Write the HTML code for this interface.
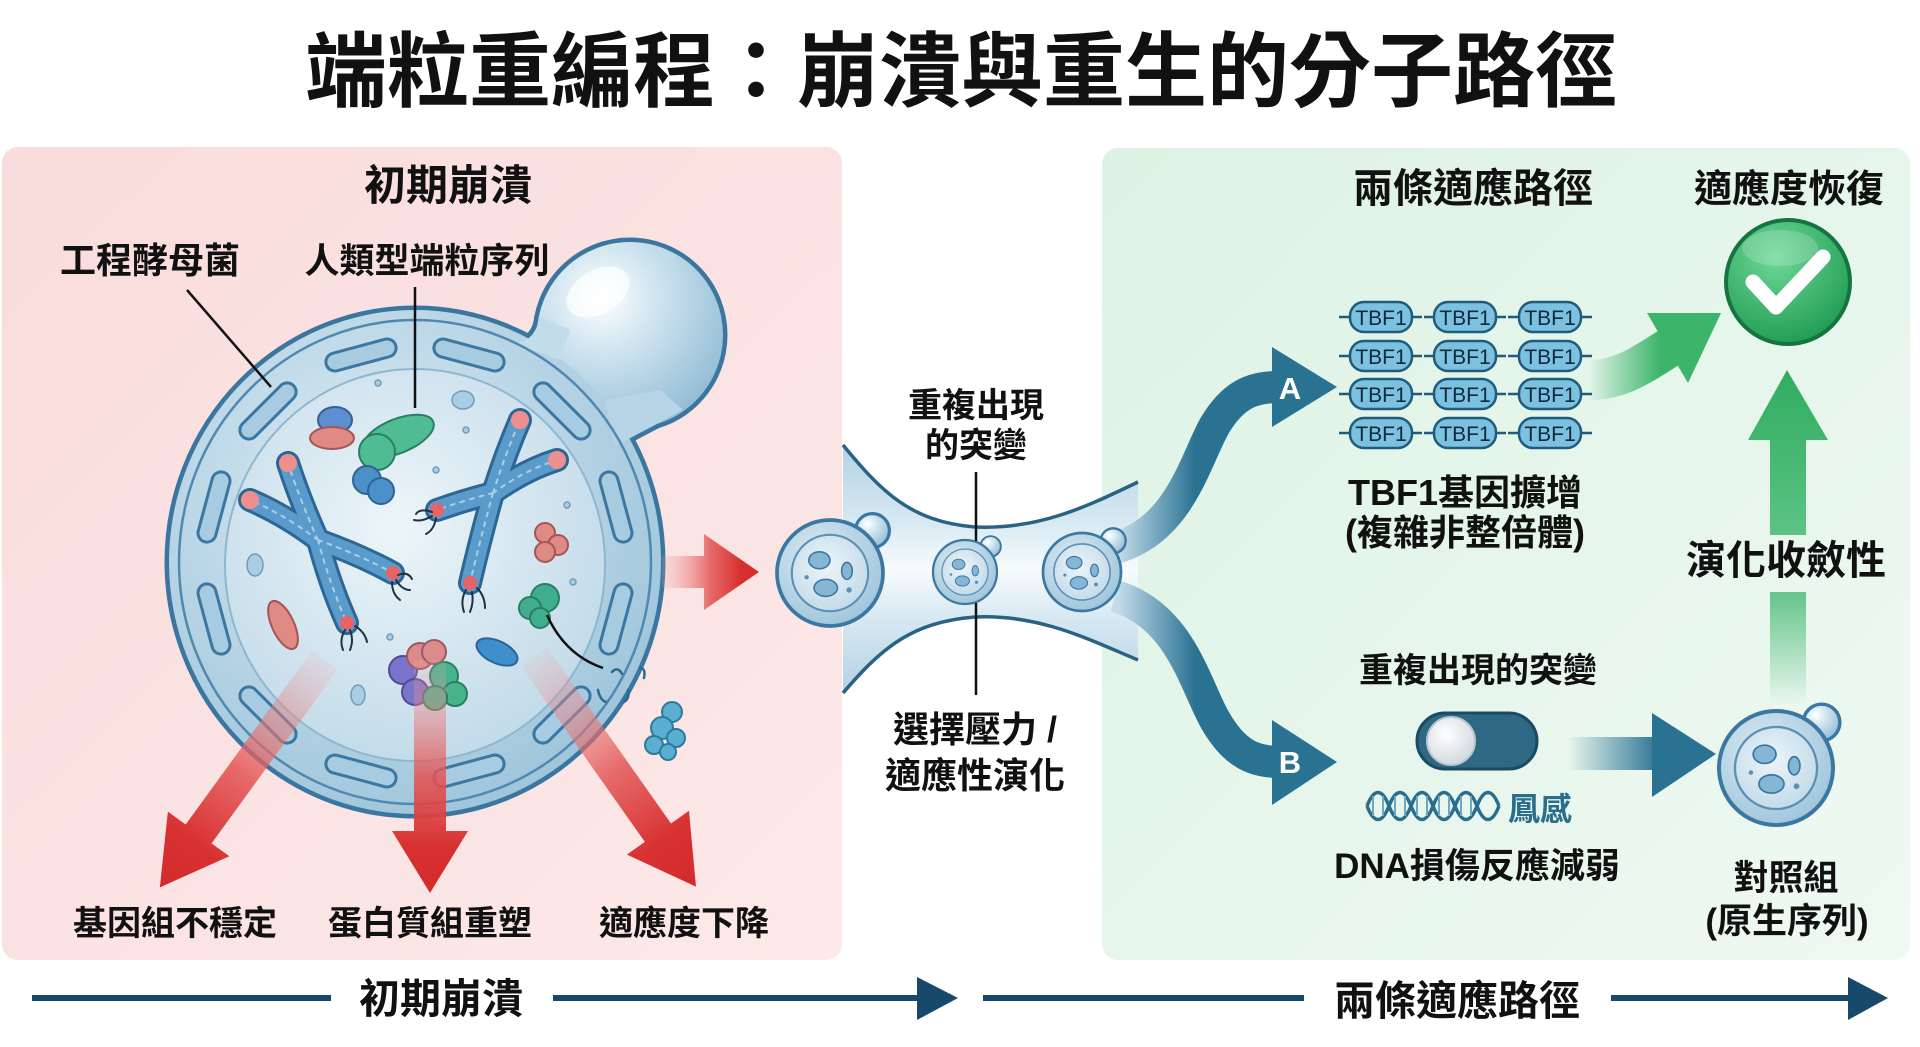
<!DOCTYPE html>
<html><head><meta charset="utf-8">
<style>
html,body{margin:0;padding:0;background:#fff;}
svg{display:block;}
text{font-family:"Liberation Sans","Noto Sans CJK TC","Noto Sans CJK JP",sans-serif;font-weight:700;fill:#111;}
</style></head><body>
<svg width="1920" height="1047" viewBox="0 0 1920 1047" xmlns="http://www.w3.org/2000/svg">
<defs>
 <linearGradient id="pinkBg" x1="0" y1="0" x2="1" y2="1">
  <stop offset="0" stop-color="#f9dcdc"/><stop offset="1" stop-color="#fce9e8"/>
 </linearGradient>
 <linearGradient id="greenBg" x1="0" y1="0" x2="1" y2="1">
  <stop offset="0" stop-color="#ddf2e4"/><stop offset="1" stop-color="#eef9f2"/>
 </linearGradient>
 <radialGradient id="cellFill" cx="0.4" cy="0.35" r="0.7">
  <stop offset="0" stop-color="#dcebf4"/><stop offset="1" stop-color="#9dc4da"/>
 </radialGradient>
 <radialGradient id="nucFill" cx="0.45" cy="0.4" r="0.65">
  <stop offset="0" stop-color="#edf5f9"/><stop offset="1" stop-color="#c0d9e8"/>
 </radialGradient>
 <radialGradient id="budFill" cx="0.35" cy="0.3" r="0.75">
  <stop offset="0" stop-color="#ffffff"/><stop offset="0.35" stop-color="#d4e7f1"/><stop offset="1" stop-color="#93bdd5"/>
 </radialGradient>
 <linearGradient id="redGrad" x1="0" y1="0" x2="1" y2="0">
  <stop offset="0" stop-color="#f2a9a9" stop-opacity="0.15"/>
  <stop offset="0.5" stop-color="#e35454" stop-opacity="0.85"/>
  <stop offset="0.8" stop-color="#d83131"/>
  <stop offset="1" stop-color="#d32b2b"/>
 </linearGradient>
 <linearGradient id="tubeGrad" gradientUnits="userSpaceOnUse" x1="0" y1="445" x2="0" y2="695">
  <stop offset="0" stop-color="#b3d1e2"/><stop offset="0.3" stop-color="#d6e8f2"/>
  <stop offset="0.5" stop-color="#f7fbfd"/><stop offset="0.7" stop-color="#d6e8f2"/>
  <stop offset="1" stop-color="#b3d1e2"/>
 </linearGradient>
 <linearGradient id="ribGrad" gradientUnits="userSpaceOnUse" x1="1118" y1="0" x2="1195" y2="0">
  <stop offset="0" stop-color="#c4dcea"/><stop offset="1" stop-color="#2a7292"/>
 </linearGradient>
 <linearGradient id="greenArr" gradientUnits="userSpaceOnUse" x1="1588" y1="0" x2="1660" y2="0">
  <stop offset="0" stop-color="#3cb46a" stop-opacity="0"/><stop offset="1" stop-color="#3cb46a"/>
 </linearGradient>
 <linearGradient id="greenUp" gradientUnits="userSpaceOnUse" x1="0" y1="370" x2="0" y2="540">
  <stop offset="0" stop-color="#2fac5f"/><stop offset="1" stop-color="#5ec486"/>
 </linearGradient>
 <linearGradient id="greenFade" gradientUnits="userSpaceOnUse" x1="0" y1="592" x2="0" y2="705">
  <stop offset="0" stop-color="#63c488"/><stop offset="1" stop-color="#63c488" stop-opacity="0"/>
 </linearGradient>
 <linearGradient id="blueArr" gradientUnits="userSpaceOnUse" x1="1568" y1="0" x2="1660" y2="0">
  <stop offset="0" stop-color="#2a7292" stop-opacity="0"/><stop offset="1" stop-color="#2a7292"/>
 </linearGradient>
 <radialGradient id="checkGrad" cx="0.4" cy="0.3" r="0.75">
  <stop offset="0" stop-color="#6fd898"/><stop offset="1" stop-color="#1e9a52"/>
 </radialGradient>
 <radialGradient id="knob" cx="0.4" cy="0.35" r="0.7">
  <stop offset="0" stop-color="#ffffff"/><stop offset="1" stop-color="#cfd8de"/>
 </radialGradient>
 <g id="yeast">
  <circle cx="40" cy="-40" r="16" fill="url(#budFill)" stroke="#3b77a0" stroke-width="3"/>
  <circle cx="0" cy="0" r="50" fill="url(#cellFill)" stroke="#3b77a0" stroke-width="3.5"/>
  <circle cx="0" cy="0" r="36" fill="url(#nucFill)" stroke="#5d8fb3" stroke-width="2"/>
  <ellipse cx="-10" cy="-12" rx="10" ry="8" fill="#86b6d6" stroke="#3b77a0" stroke-width="1.5"/>
  <ellipse cx="-4" cy="14" rx="11" ry="8" fill="#86b6d6" stroke="#3b77a0" stroke-width="1.5"/>
  <ellipse cx="16" cy="-2" rx="5" ry="8" fill="#86b6d6" stroke="#3b77a0" stroke-width="1.5"/>
  <circle cx="-22" cy="4" r="2" fill="#5d8fb3"/><circle cx="18" cy="16" r="2.5" fill="#5d8fb3"/>
 </g>
</defs>

<!-- background panels -->
<rect x="0" y="0" width="1920" height="1047" fill="#ffffff"/>
<rect x="2" y="147" width="840" height="813" rx="16" fill="url(#pinkBg)"/>
<rect x="1102" y="148" width="808" height="812" rx="16" fill="url(#greenBg)"/>

<!-- title -->
<text x="961" y="100" font-size="82" font-weight="900" text-anchor="middle">端粒重編程：崩潰與重生的分子路徑</text>

<!-- left panel texts -->
<text x="448" y="200" font-size="42" text-anchor="middle">初期崩潰</text>
<text x="150" y="273" font-size="36" text-anchor="middle">工程酵母菌</text>
<text x="427" y="273" font-size="35" text-anchor="middle">人類型端粒序列</text>

<!-- big cell -->
<g>
 <circle cx="630" cy="335" r="93" fill="none" stroke="#3a76a0" stroke-width="9"/>
 <ellipse cx="415" cy="562" rx="246" ry="252" fill="none" stroke="#3a76a0" stroke-width="9"/>
 <path d="M683 410 Q 642 432 615 446" fill="none" stroke="#3a76a0" stroke-width="9"/>
 <path d="M515 344 Q 537 340 539 316" fill="none" stroke="#3a76a0" stroke-width="9"/>
 <circle cx="630" cy="335" r="93" fill="url(#budFill)"/>
 <ellipse cx="415" cy="562" rx="246" ry="252" fill="url(#cellFill)"/>
 <path d="M683 410 Q 642 432 615 446 L 605 400 L 660 390 Z" fill="#b7d5e6"/>
 <path d="M515 344 Q 537 340 539 316 L 570 330 L 560 360 Z" fill="#c3dcea"/>
 <ellipse cx="598" cy="292" rx="34" ry="22" fill="#ffffff" opacity="0.7" transform="rotate(-30 598 292)"/>
 <ellipse cx="415" cy="562" rx="236" ry="242" fill="none" stroke="#4f88b0" stroke-width="2.5"/>
 <ellipse cx="415" cy="565" rx="190" ry="196" fill="url(#nucFill)" stroke="#8db7d0" stroke-width="2"/>
 <!-- capsules -->
 <g fill="#a7cbe0" stroke="#3b77a0" stroke-width="3">
  <rect x="-36" y="-9" width="72" height="18" rx="9" transform="translate(616,619) rotate(105)"/>
  <rect x="-36" y="-9" width="72" height="18" rx="9" transform="translate(562,715) rotate(135)"/>
  <rect x="-36" y="-9" width="72" height="18" rx="9" transform="translate(469,771) rotate(165)"/>
  <rect x="-36" y="-9" width="72" height="18" rx="9" transform="translate(361,771) rotate(195)"/>
  <rect x="-36" y="-9" width="72" height="18" rx="9" transform="translate(268,715) rotate(225)"/>
  <rect x="-36" y="-9" width="72" height="18" rx="9" transform="translate(214,619) rotate(255)"/>
  <rect x="-36" y="-9" width="72" height="18" rx="9" transform="translate(214,507) rotate(285)"/>
  <rect x="-36" y="-9" width="72" height="18" rx="9" transform="translate(268,411) rotate(315)"/>
  <rect x="-36" y="-9" width="72" height="18" rx="9" transform="translate(361,355) rotate(345)"/>
  <rect x="-36" y="-9" width="72" height="18" rx="9" transform="translate(469,355) rotate(15)"/>
  <rect x="-36" y="-9" width="72" height="18" rx="9" transform="translate(562,411) rotate(45)"/>
  <rect x="-36" y="-9" width="72" height="18" rx="9" transform="translate(616,507) rotate(75)"/>
 </g>
 <!-- chromosomes -->
 <g fill="none" stroke-linecap="round">
  <g stroke="#2c6694" stroke-width="24">
   <path d="M318 540 Q 300 500 288 463"/><path d="M318 540 Q 285 515 250 500"/>
   <path d="M318 540 Q 360 555 393 573"/><path d="M318 540 Q 330 585 347 623"/>
   <path d="M493 493 Q 505 455 520 420"/><path d="M493 493 Q 525 470 557 460"/>
   <path d="M493 493 Q 465 500 437 510"/><path d="M493 493 Q 480 540 470 583"/>
  </g>
  <g stroke="#5b9bcc" stroke-width="18">
   <path d="M318 540 Q 300 500 288 463"/><path d="M318 540 Q 285 515 250 500"/>
   <path d="M318 540 Q 360 555 393 573"/><path d="M318 540 Q 330 585 347 623"/>
   <path d="M493 493 Q 505 455 520 420"/><path d="M493 493 Q 525 470 557 460"/>
   <path d="M493 493 Q 465 500 437 510"/><path d="M493 493 Q 480 540 470 583"/>
  </g>
  <g stroke="#a6cfe9" stroke-width="2" stroke-dasharray="4 6">
   <path d="M318 540 Q 300 500 288 463"/><path d="M318 540 Q 285 515 250 500"/>
   <path d="M318 540 Q 360 555 393 573"/><path d="M318 540 Q 330 585 347 623"/>
   <path d="M493 493 Q 505 455 520 420"/><path d="M493 493 Q 525 470 557 460"/>
   <path d="M493 493 Q 465 500 437 510"/><path d="M493 493 Q 480 540 470 583"/>
  </g>
 </g>
 <g fill="#ee8f8f">
  <circle cx="288" cy="463" r="9"/><circle cx="250" cy="500" r="9"/>
  <circle cx="520" cy="420" r="9"/><circle cx="557" cy="460" r="9"/>
  <circle cx="393" cy="573" r="7" fill="#e86464"/><circle cx="347" cy="623" r="7" fill="#e86464"/>
  <circle cx="437" cy="510" r="7" fill="#e86464"/><circle cx="470" cy="583" r="7" fill="#e86464"/>
 </g>
 <g fill="none" stroke="#1d3342" stroke-width="2" stroke-linecap="round">
  <path d="M398 575 q 10 -4 14 4"/><path d="M396 580 q 6 10 14 10"/><path d="M392 582 q 0 12 8 18"/>
  <path d="M345 630 q -6 10 -2 20"/><path d="M350 630 q 4 10 0 20"/><path d="M355 626 q 10 6 12 16"/>
  <path d="M432 512 q -12 -4 -16 2"/><path d="M432 516 q -10 6 -18 4"/><path d="M436 518 q -2 12 -10 16"/>
  <path d="M466 590 q -6 10 -2 22"/><path d="M472 592 q 2 10 -2 20"/><path d="M477 588 q 8 8 8 20"/>
 </g>
 <!-- blobs -->
 <ellipse cx="335" cy="420" rx="17" ry="13" fill="#5b8fd0" stroke="#355f96" stroke-width="2"/>
 <ellipse cx="332" cy="438" rx="22" ry="11" fill="#e08a86" stroke="#a55556" stroke-width="2"/>
 <ellipse cx="398" cy="436" rx="38" ry="17" fill="#4fbc93" stroke="#2a7e63" stroke-width="2" transform="rotate(-22 398 436)"/>
 <circle cx="377" cy="452" r="18" fill="#4fbc93" stroke="#2a7e63" stroke-width="2"/>
 <circle cx="367" cy="480" r="14" fill="#4c90c9" stroke="#2d6396" stroke-width="2"/>
 <circle cx="381" cy="491" r="13" fill="#4c90c9" stroke="#2d6396" stroke-width="2"/>
 <ellipse cx="463" cy="400" rx="11" ry="9" fill="#a9cde3" stroke="#6e9dbc" stroke-width="1.5"/>
 <g fill="#e08a86" stroke="#a55556" stroke-width="2">
  <circle cx="545" cy="533" r="10"/><circle cx="558" cy="545" r="10"/><circle cx="545" cy="552" r="10"/>
 </g>
 <g fill="#3fae8d" stroke="#2a7e63" stroke-width="2">
  <circle cx="545" cy="598" r="14"/><circle cx="530" cy="608" r="11"/><circle cx="540" cy="618" r="10"/>
 </g>
 <ellipse cx="497" cy="652" rx="22" ry="11" fill="#3f8fcd" stroke="#2c6396" stroke-width="2" transform="rotate(25 497 652)"/>
 <ellipse cx="283" cy="625" rx="11" ry="26" fill="#e08a86" stroke="#a55556" stroke-width="2" transform="rotate(-25 283 625)"/>
 <g stroke-width="2">
  <circle cx="403" cy="670" r="14" fill="#7a74cc" stroke="#4f4a95"/>
  <circle cx="415" cy="692" r="13" fill="#7a74cc" stroke="#4f4a95"/>
  <circle cx="420" cy="656" r="13" fill="#dc8a8c" stroke="#9b5a63"/>
  <circle cx="434" cy="652" r="12" fill="#dc8a8c" stroke="#9b5a63"/>
  <circle cx="444" cy="676" r="14" fill="#47b48d" stroke="#2a7e63"/>
  <circle cx="455" cy="694" r="12" fill="#47b48d" stroke="#2a7e63"/>
  <circle cx="435" cy="698" r="12" fill="#47b48d" stroke="#2a7e63"/>
 </g>
 <g fill="#a9cde3" stroke="#6e9dbc" stroke-width="1.5">
  <circle cx="378" cy="383" r="3"/><circle cx="466" cy="430" r="3"/><circle cx="436" cy="470" r="3"/>
  <circle cx="567" cy="505" r="3"/><circle cx="573" cy="582" r="3"/><circle cx="390" cy="637" r="3"/>
  <ellipse cx="255" cy="565" rx="8" ry="11"/><ellipse cx="358" cy="695" rx="7" ry="10"/>
 </g>
 <!-- debris -->
 <path d="M547 615 Q 565 655 603 668" fill="none" stroke="#111" stroke-width="2.5"/>
 <g fill="none" stroke="#2b6b90" stroke-width="2.5" stroke-linecap="round">
  <path d="M612 672 q 6 -6 10 2"/><path d="M640 668 q 6 0 4 10"/><path d="M598 690 q 2 10 8 12"/><path d="M628 690 q 2 8 -4 12"/>
 </g>
 <g fill="#5aaed0" stroke="#2d7aa0" stroke-width="2">
  <circle cx="672" cy="712" r="10"/><circle cx="662" cy="728" r="11"/><circle cx="676" cy="738" r="9"/><circle cx="654" cy="745" r="9"/><circle cx="668" cy="752" r="8"/>
 </g>
</g>

<!-- leader lines -->
<line x1="187" y1="290" x2="271" y2="387" stroke="#111" stroke-width="2.5"/>
<line x1="415" y1="287" x2="415" y2="408" stroke="#111" stroke-width="2.5"/>

<!-- red arrows -->
<g transform="translate(325,660) rotate(126)"><polygon points="0,-16 215,-16 215,-38 281,0 215,38 215,16 0,16" fill="url(#redGrad)"/></g>
<g transform="translate(430,660) rotate(90)"><polygon points="0,-16 171,-16 171,-38 233,0 171,38 171,16 0,16" fill="url(#redGrad)"/></g>
<g transform="translate(534,657) rotate(54.8)"><polygon points="0,-16 215,-16 215,-38 281,0 215,38 215,16 0,16" fill="url(#redGrad)"/></g>
<g transform="translate(662,572)"><polygon points="0,-16 42,-16 42,-38 97,0 42,38 42,16 0,16" fill="url(#redGrad)"/></g>

<text x="175" y="935" font-size="34" text-anchor="middle">基因組不穩定</text>
<text x="430" y="935" font-size="34" text-anchor="middle">蛋白質組重塑</text>
<text x="684" y="935" font-size="34" text-anchor="middle">適應度下降</text>

<!-- tube -->
<path d="M843 445 C 880 490, 910 522, 975 527 C 1040 530, 1090 505, 1138 482 L 1138 660 C 1090 640, 1040 614, 975 617 C 910 622, 880 650, 843 693 Z" fill="url(#tubeGrad)"/>
<path d="M843 445 C 880 490, 910 522, 975 527 C 1040 530, 1090 505, 1138 482" fill="none" stroke="#2a6283" stroke-width="3.5"/>
<path d="M843 693 C 880 650, 910 622, 975 617 C 1040 614, 1090 640, 1138 660" fill="none" stroke="#2a6283" stroke-width="3.5"/>

<!-- ribbons A/B -->
<path d="M1115 548 C 1180 530, 1195 460, 1215 425 C 1235 392, 1255 387, 1280 387" fill="none" stroke="url(#ribGrad)" stroke-width="32"/>
<polygon points="1272,347 1337,387 1272,427" fill="#2a7292"/>
<path d="M1115 596 C 1180 615, 1195 685, 1215 720 C 1235 755, 1255 762, 1280 762" fill="none" stroke="url(#ribGrad)" stroke-width="32"/>
<polygon points="1272,720 1337,762 1272,805" fill="#2a7292"/>
<text x="1290" y="399" font-size="31" text-anchor="middle" style="fill:#fff">A</text>
<text x="1290" y="773" font-size="31" text-anchor="middle" style="fill:#fff">B</text>

<!-- tube cells -->
<use href="#yeast" transform="translate(830,573) scale(1.06)"/>
<use href="#yeast" transform="translate(965,572) scale(0.64)"/>
<use href="#yeast" transform="translate(1082,572) scale(0.78)"/>

<line x1="976" y1="472" x2="976" y2="541" stroke="#111" stroke-width="2.5"/>
<line x1="976" y1="603" x2="976" y2="695" stroke="#111" stroke-width="2.5"/>
<text x="976" y="417" font-size="34" text-anchor="middle">重複出現</text>
<text x="976" y="457" font-size="34" text-anchor="middle">的突變</text>
<text x="975" y="742" font-size="36" text-anchor="middle">選擇壓力 /</text>
<text x="975" y="788" font-size="36" text-anchor="middle">適應性演化</text>

<!-- right panel -->
<text x="1473" y="202" font-size="40" text-anchor="middle">兩條適應路徑</text>
<text x="1789" y="202" font-size="38" text-anchor="middle">適應度恢復</text>

<circle cx="1788" cy="282" r="62" fill="url(#checkGrad)" stroke="#16743f" stroke-width="4"/>
<ellipse cx="1780" cy="248" rx="38" ry="18" fill="#ffffff" opacity="0.18"/>
<polyline points="1753,282 1776,307 1823,257" fill="none" stroke="#ffffff" stroke-width="15" stroke-linecap="round" stroke-linejoin="round"/>

<!-- TBF1 pills: dashes -->
<g stroke="#1f5b7a" stroke-width="2.5">
 <line x1="1339" y1="317" x2="1351" y2="317"/><line x1="1411" y1="317" x2="1422" y2="317"/>
 <line x1="1424" y1="317" x2="1435" y2="317"/><line x1="1495" y1="317" x2="1506" y2="317"/>
 <line x1="1508" y1="317" x2="1520" y2="317"/><line x1="1580" y1="317" x2="1592" y2="317"/>
 <line x1="1339" y1="356" x2="1351" y2="356"/><line x1="1411" y1="356" x2="1422" y2="356"/>
 <line x1="1424" y1="356" x2="1435" y2="356"/><line x1="1495" y1="356" x2="1506" y2="356"/>
 <line x1="1508" y1="356" x2="1520" y2="356"/><line x1="1580" y1="356" x2="1592" y2="356"/>
 <line x1="1339" y1="394" x2="1351" y2="394"/><line x1="1411" y1="394" x2="1422" y2="394"/>
 <line x1="1424" y1="394" x2="1435" y2="394"/><line x1="1495" y1="394" x2="1506" y2="394"/>
 <line x1="1508" y1="394" x2="1520" y2="394"/><line x1="1580" y1="394" x2="1592" y2="394"/>
 <line x1="1339" y1="433" x2="1351" y2="433"/><line x1="1411" y1="433" x2="1422" y2="433"/>
 <line x1="1424" y1="433" x2="1435" y2="433"/><line x1="1495" y1="433" x2="1506" y2="433"/>
 <line x1="1508" y1="433" x2="1520" y2="433"/><line x1="1580" y1="433" x2="1592" y2="433"/>
</g>
<g fill="#7cc1e0" stroke="#1f5b7a" stroke-width="2.5">
 <rect x="1350" y="302" width="62" height="30" rx="14"/><rect x="1434" y="302" width="62" height="30" rx="14"/><rect x="1519" y="302" width="62" height="30" rx="14"/>
 <rect x="1350" y="341" width="62" height="30" rx="14"/><rect x="1434" y="341" width="62" height="30" rx="14"/><rect x="1519" y="341" width="62" height="30" rx="14"/>
 <rect x="1350" y="379" width="62" height="30" rx="14"/><rect x="1434" y="379" width="62" height="30" rx="14"/><rect x="1519" y="379" width="62" height="30" rx="14"/>
 <rect x="1350" y="418" width="62" height="30" rx="14"/><rect x="1434" y="418" width="62" height="30" rx="14"/><rect x="1519" y="418" width="62" height="30" rx="14"/>
</g>
<g font-size="21" text-anchor="middle">
 <text x="1381" y="325" style="fill:#0e2a3c;font-weight:400">TBF1</text><text x="1465" y="325" style="fill:#0e2a3c;font-weight:400">TBF1</text><text x="1550" y="325" style="fill:#0e2a3c;font-weight:400">TBF1</text>
 <text x="1381" y="364" style="fill:#0e2a3c;font-weight:400">TBF1</text><text x="1465" y="364" style="fill:#0e2a3c;font-weight:400">TBF1</text><text x="1550" y="364" style="fill:#0e2a3c;font-weight:400">TBF1</text>
 <text x="1381" y="402" style="fill:#0e2a3c;font-weight:400">TBF1</text><text x="1465" y="402" style="fill:#0e2a3c;font-weight:400">TBF1</text><text x="1550" y="402" style="fill:#0e2a3c;font-weight:400">TBF1</text>
 <text x="1381" y="441" style="fill:#0e2a3c;font-weight:400">TBF1</text><text x="1465" y="441" style="fill:#0e2a3c;font-weight:400">TBF1</text><text x="1550" y="441" style="fill:#0e2a3c;font-weight:400">TBF1</text>
</g>

<text x="1465" y="505" font-size="36" text-anchor="middle">TBF1基因擴增</text>
<text x="1465" y="545" font-size="36" text-anchor="middle">(複雜非整倍體)</text>

<!-- green arrows -->
<path d="M1590 380 C 1620 380, 1640 366, 1670 347" fill="none" stroke="url(#greenArr)" stroke-width="40"/>
<polygon points="1647,313 1721,313 1688,383" fill="#3cb46a"/>
<polygon points="1787,370 1828,440 1806,440 1806,535 1770,535 1770,440 1748,440" fill="url(#greenUp)"/>
<rect x="1770" y="592" width="36" height="112" fill="url(#greenFade)"/>
<text x="1786" y="574" font-size="40" text-anchor="middle">演化收斂性</text>

<!-- path B contents -->
<text x="1478" y="682" font-size="34" text-anchor="middle">重複出現的突變</text>
<rect x="1417" y="713" width="120" height="56" rx="28" fill="#2e6883" stroke="#1b4a63" stroke-width="3"/>
<circle cx="1451" cy="741" r="24" fill="url(#knob)" stroke="#b9c6cf" stroke-width="2"/>
<!-- DNA helix -->
<g fill="none" stroke="#2a6e8e" stroke-width="3.5">
 <path d="M1367 806 C 1374 788, 1382 788, 1389 806 C 1396 824, 1404 824, 1411 806 C 1418 788, 1426 788, 1433 806 C 1440 824, 1448 824, 1455 806 C 1462 788, 1470 788, 1477 806 C 1484 824, 1492 824, 1499 806"/>
 <path d="M1367 806 C 1374 824, 1382 824, 1389 806 C 1396 788, 1404 788, 1411 806 C 1418 824, 1426 824, 1433 806 C 1440 788, 1448 788, 1455 806 C 1462 824, 1470 824, 1477 806 C 1484 788, 1492 788, 1499 806"/>
</g>
<g stroke="#6fa7c4" stroke-width="2">
 <line x1="1373" y1="796" x2="1373" y2="816"/><line x1="1383" y1="796" x2="1383" y2="816"/>
 <line x1="1395" y1="796" x2="1395" y2="816"/><line x1="1405" y1="796" x2="1405" y2="816"/>
 <line x1="1417" y1="796" x2="1417" y2="816"/><line x1="1427" y1="796" x2="1427" y2="816"/>
 <line x1="1439" y1="796" x2="1439" y2="816"/><line x1="1449" y1="796" x2="1449" y2="816"/>
 <line x1="1461" y1="796" x2="1461" y2="816"/><line x1="1471" y1="796" x2="1471" y2="816"/>
</g>
<text x="1508" y="820" font-size="32" style="fill:#2a6e8e">鳳感</text>
<text x="1477" y="878" font-size="35" text-anchor="middle">DNA損傷反應減弱</text>

<rect x="1568" y="737" width="86" height="33" fill="url(#blueArr)"/>
<polygon points="1652,713 1716,754 1652,797" fill="#2a7292"/>

<use href="#yeast" transform="translate(1776,768) scale(1.14)"/>
<text x="1786" y="890" font-size="35" text-anchor="middle">對照組</text>
<text x="1787" y="933" font-size="35" text-anchor="middle">(原生序列)</text>

<!-- bottom timeline -->
<g stroke="#17496b" stroke-width="6">
 <line x1="32" y1="998" x2="331" y2="998"/>
 <line x1="553" y1="998" x2="922" y2="998"/>
 <line x1="983" y1="998" x2="1304" y2="998"/>
 <line x1="1611" y1="998" x2="1852" y2="998"/>
</g>
<polygon points="917,977 958,998 917,1020" fill="#17496b"/>
<polygon points="1848,977 1888,998 1848,1020" fill="#17496b"/>
<text x="441" y="1013" font-size="41" text-anchor="middle">初期崩潰</text>
<text x="1457" y="1015" font-size="41" text-anchor="middle">兩條適應路徑</text>
</svg>
</body></html>
